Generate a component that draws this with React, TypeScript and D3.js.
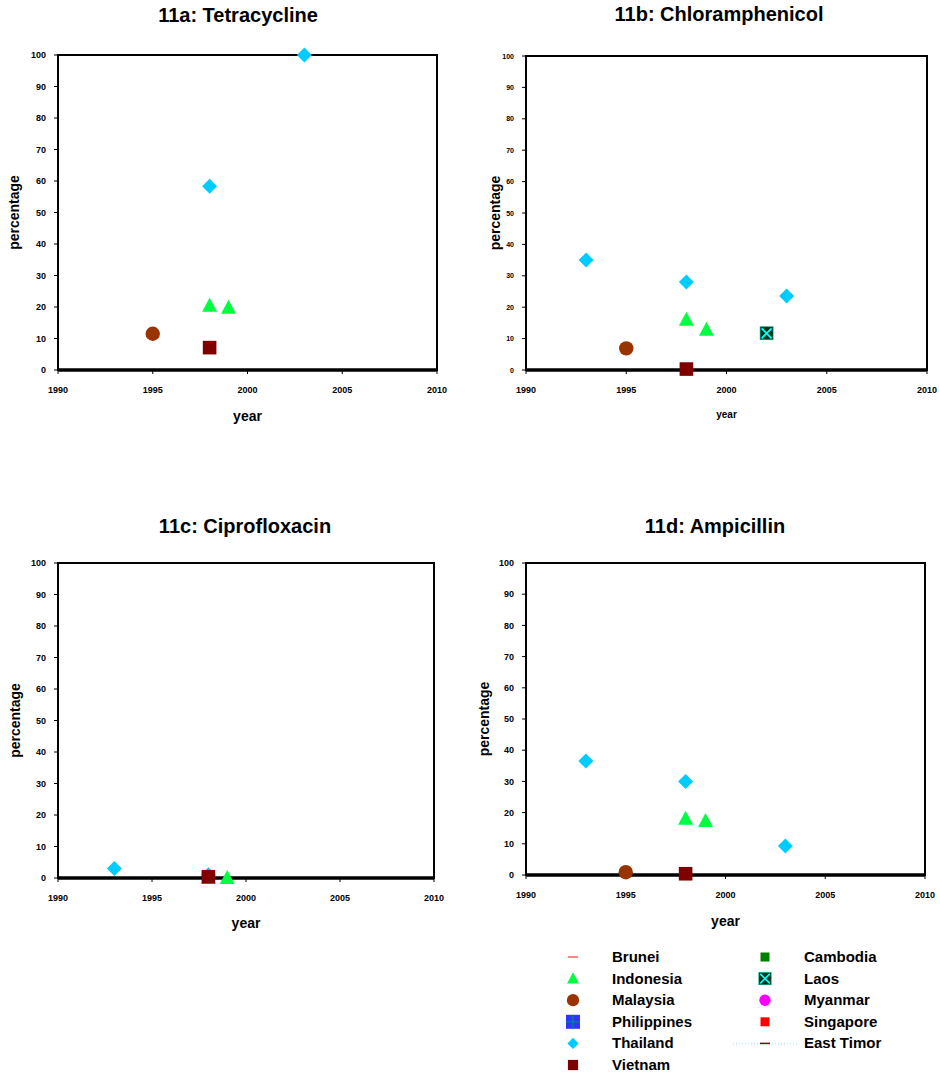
import React from 'react';
import * as d3 from 'd3';

const xTicks = [1990, 1995, 2000, 2005, 2010];
const yTicks = [0, 10, 20, 30, 40, 50, 60, 70, 80, 90, 100];

// [year, percentage] per country per panel
const tetraThailand = [[1998, 58.3], [2003, 100]];
const tetraIndonesia = [[1998, 20.4], [1999, 19.8]];
const tetraMalaysia = [[1995, 11.5]];
const tetraVietnam = [[1998, 7.1]];

const chloThailand = [[1993, 35], [1998, 28], [2003, 23.6]];
const chloIndonesia = [[1998, 16], [1999, 12.8]];
const chloMalaysia = [[1995, 6.9]];
const chloVietnam = [[1998, 0.3]];
const chloLaos = [[2002, 11.7]];

const ciproThailand = [[1993, 3], [1998, 1]];
const ciproIndonesia = [[1998, 0], [1999, 0]];
const ciproVietnam = [[1998, 0.4]];

const ampiThailand = [[1993, 36.5], [1998, 30], [2003, 9.3]];
const ampiIndonesia = [[1998, 18], [1999, 17.3]];
const ampiMalaysia = [[1995, 0.9]];
const ampiVietnam = [[1998, 0.4]];

const legendLeft = ['Brunei', 'Indonesia', 'Malaysia', 'Philippines', 'Thailand', 'Vietnam'];
const legendRight = ['Cambodia', 'Laos', 'Myanmar', 'Singapore', 'East Timor'];

const FONT = '"Liberation Sans", Arial, sans-serif';

const Marker = ({ kind, x, y, s = 1 }) => {
  const t = `translate(${x},${y}) scale(${s})`;
  switch (kind) {
    case 'Thailand':
      return <path transform={t} d="M0,-7.5L7.5,0L0,7.5L-7.5,0Z" fill="#00CCFF" />;
    case 'Indonesia':
      return <path transform={t} d="M0,-8L7.5,6L-7.5,6Z" fill="#00FF40" />;
    case 'Malaysia':
      return <circle transform={t} r={7.2} fill="#993300" />;
    case 'Vietnam':
      return <rect transform={t} x={-6.8} y={-6.8} width={13.6} height={13.6} fill="#800000" />;
    case 'Laos':
      return (
        <g transform={t}>
          <rect x={-6.5} y={-6.5} width={13} height={13} fill="#003319" stroke="#00aa88" strokeWidth={0.6} />
          <path d="M-5,-5L5,5M5,-5L-5,5" stroke="#00FFFF" strokeWidth={1.8} />
        </g>
      );
    case 'Cambodia':
      return <rect transform={t} x={-5} y={-5} width={10} height={10} fill="#008000" />;
    case 'Myanmar':
      return <circle transform={t} r={6} fill="#FF00FF" />;
    case 'Singapore':
      return <rect transform={t} x={-5} y={-5} width={10} height={10} fill="#FF0000" />;
    case 'Philippines':
      return (
        <g transform={t}>
          <rect x={-7} y={-7} width={14} height={14} fill="#3333FF" />
          <path d="M0,-7V7M-7,0H7" stroke="#008080" strokeWidth={1.6} />
        </g>
      );
    case 'Brunei':
      return <path transform={t} d="M-5,0H5" stroke="#FF3333" strokeWidth={1.2} />;
    case 'East Timor':
      return (
        <g transform={t}>
          <path d="M-32,0H32" stroke="#BBEEFF" strokeWidth={2} strokeDasharray="1 2" />
          <path d="M-5,0H5" stroke="#800000" strokeWidth={1.5} />
        </g>
      );
    default:
      return null;
  }
};

const legendScale = {
  Brunei: 1, Indonesia: 0.8, Malaysia: 0.85, Philippines: 1, Thailand: 0.75, Vietnam: 0.75,
  Cambodia: 0.9, Laos: 0.95, Myanmar: 0.95, Singapore: 0.9, 'East Timor': 1,
};

const panels = [
  {
    title: '11a: Tetracycline', left: 58, top: 55, right: 437, bottom: 370, small: false,
    series: [['Malaysia', tetraMalaysia], ['Vietnam', tetraVietnam], ['Indonesia', tetraIndonesia], ['Thailand', tetraThailand]],
    titleX: 238, titleY: 22, xLabelY: 421, yLabelX: 19,
  },
  {
    title: '11b: Chloramphenicol', left: 526, top: 56, right: 927, bottom: 370, small: true,
    series: [['Malaysia', chloMalaysia], ['Vietnam', chloVietnam], ['Indonesia', chloIndonesia], ['Thailand', chloThailand], ['Laos', chloLaos]],
    titleX: 719, titleY: 21, xLabelY: 418, yLabelX: 500,
  },
  {
    title: '11c: Ciprofloxacin', left: 58, top: 563, right: 434, bottom: 878, small: false,
    series: [['Thailand', ciproThailand], ['Indonesia', ciproIndonesia], ['Vietnam', ciproVietnam]],
    titleX: 245, titleY: 533, xLabelY: 928, yLabelX: 20,
  },
  {
    title: '11d: Ampicillin', left: 526, top: 563, right: 925, bottom: 875, small: false,
    series: [['Thailand', ampiThailand], ['Indonesia', ampiIndonesia], ['Malaysia', ampiMalaysia], ['Vietnam', ampiVietnam]],
    titleX: 715, titleY: 533, xLabelY: 926, yLabelX: 489,
  },
];

const Panel = ({ p }) => {
  const x = d3.scaleLinear().domain([1990, 2010]).range([p.left, p.right]);
  const y = d3.scaleLinear().domain([0, 100]).range([p.bottom, p.top]);
  const tickFont = p.small ? 7 : 9;
  const labelFont = p.small ? 10 : 14;
  return (
    <g fontFamily={FONT} fontWeight="bold" fill="#000">
      <text x={p.titleX} y={p.titleY} textAnchor="middle" fontSize={20}>{p.title}</text>
      <rect x={p.left} y={p.top} width={p.right - p.left} height={p.bottom - p.top} fill="none" stroke="#000" strokeWidth={2} />
      <line x1={p.left} x2={p.right} y1={y(0)} y2={y(0)} stroke="#000" strokeWidth={3.5} />
      {yTicks.map((t) => (
        <g key={t}>
          <line x1={p.left - 4} x2={p.left} y1={y(t)} y2={y(t)} stroke="#000" strokeWidth={1} />
          <text x={p.left - 12} y={y(t) + tickFont * 0.36} textAnchor="end" fontSize={tickFont}>{t}</text>
        </g>
      ))}
      {xTicks.map((t) => (
        <g key={t}>
          <line x1={x(t)} x2={x(t)} y1={p.bottom} y2={p.bottom + 4} stroke="#000" strokeWidth={1} />
          <text x={x(t)} y={p.bottom + 23} textAnchor="middle" fontSize={9}>{t}</text>
        </g>
      ))}
      <text x={(p.left + p.right) / 2} y={p.xLabelY} textAnchor="middle" fontSize={labelFont}>year</text>
      <text transform={`translate(${p.yLabelX},${(p.top + p.bottom) / 2}) rotate(-90)`} textAnchor="middle" fontSize={14}>percentage</text>
      {p.series.map(([name, pts]) =>
        pts.map(([yr, v], i) => <Marker key={name + i} kind={name} x={x(yr)} y={y(v)} />)
      )}
    </g>
  );
};

const App = () => {
  const rowY = d3.scaleLinear().domain([0, 5]).range([957, 1065]);
  return (
    <svg width={940} height={1073} style={{ position: 'absolute', left: 0, top: 0, background: '#fff' }}>
      <rect width={940} height={1073} fill="#fff" />
      {panels.map((p) => <Panel key={p.title} p={p} />)}
      <g fontFamily={FONT} fontWeight="bold" fontSize={15}>
        {legendLeft.map((name, i) => (
          <g key={name}>
            <Marker kind={name} x={573} y={rowY(i)} s={legendScale[name]} />
            <text x={612} y={rowY(i) + 5}>{name}</text>
          </g>
        ))}
        {legendRight.map((name, i) => (
          <g key={name}>
            <Marker kind={name} x={765} y={rowY(i)} s={legendScale[name]} />
            <text x={804} y={rowY(i) + 5}>{name}</text>
          </g>
        ))}
      </g>
    </svg>
  );
};

export default App;
